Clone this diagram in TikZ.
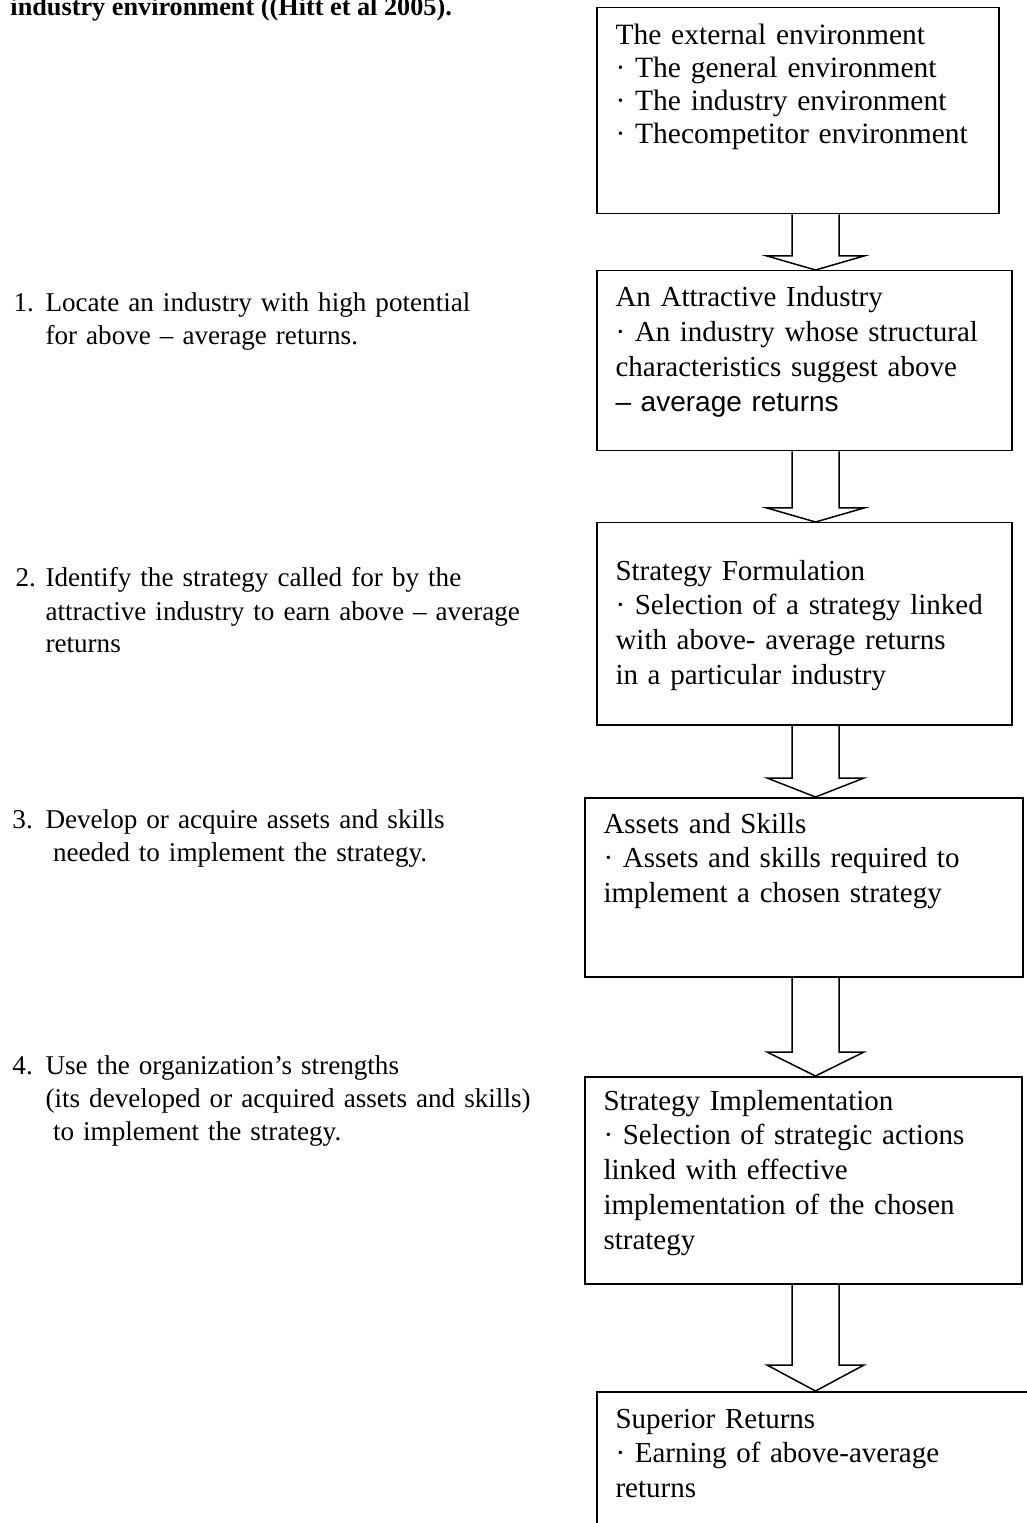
\documentclass[tikz,border=0pt]{standalone}
\usepackage{fontspec}
\setmainfont{Liberation Serif}
\newfontfamily\arialfont{Liberation Sans}
\usetikzlibrary{calc}

\begin{document}
\begin{tikzpicture}[x=0.4pt, y=-0.4pt,
	every node/.style={inner sep=0pt, font=\fontsize{11.6}{13.9}\selectfont},
	box/.style={draw, line width=0.6pt, anchor=north west},
	boxtext/.style={anchor=base west, text width=180pt, align=left},
	lefttext/.style={anchor=base west, text width=220pt, align=left, font=\fontsize{10.85}{13.2}\selectfont},
	blockline/.style={line width=0.6pt, line join=miter}]
	\useasboundingbox (0,0) rectangle (1026,1523);
	% heading, its first line is cut off by the page
	\node[anchor=base west, font=\fontsize{10.5}{12}\selectfont\bfseries] (title) at (10,16) {industry environment ((Hitt et al 2005).};
	% the boxes on the right
	\node[box, minimum width=402*0.4pt, minimum height=206*0.4pt] (ext) at (596,7) {};
	\node[box, minimum width=415*0.4pt, minimum height=180*0.4pt] (attr) at (596,270) {};
	\node[box, minimum width=415*0.4pt, minimum height=202*0.4pt] (form) at (596,522) {};
	\node[box, minimum width=438*0.4pt, minimum height=179*0.4pt] (assets) at (584,797) {};
	\node[box, minimum width=437*0.4pt, minimum height=207*0.4pt] (impl) at (584,1076) {};
	\node[box, minimum width=450*0.4pt, minimum height=200*0.4pt] (sup) at (596,1391) {};
	\node[boxtext, font=\fontsize{11.8}{13.1}\selectfont] (ext-t) at (615,45) {The external environment\\· The general environment\\· The industry environment\\· Thecompetitor environment};
	\node[boxtext] (attr-t) at (615,307) {An Attractive Industry\\· An industry whose structural\\characteristics suggest above\\{\arialfont\fontsize{11.2}{13.9}\selectfont – average returns}};
	\node[boxtext] (form-t) at (615,580) {Strategy Formulation\\· Selection of a strategy linked\\with above- average returns\\in a particular industry};
	\node[boxtext] (assets-t) at (603,833) {Assets and Skills\\· Assets and skills required to\\implement a chosen strategy};
	\node[boxtext] (impl-t) at (603,1110) {Strategy Implementation\\· Selection of strategic actions\\linked with effective\\implementation of the chosen\\strategy};
	\node[boxtext] (sup-t) at (615,1428) {Superior Returns\\· Earning of above-average\\returns};
	% hollow arrows between the boxes
	\coordinate (ax) at (815.5,0);
	\foreach \a/\b/\h in {ext/attr/14, attr/form/14, form/assets/19, assets/impl/24, impl/sup/26}
		\draw[blockline] ($(ax |- \a.south)+(-23.5,0)$) -- ($(ax |- \b.north)+(-23.5,-\h)$) -- ++(-25,0) -- (ax |- \b.north) -- ($(ax |- \b.north)+(48.5,-\h)$) -- ++(-25,0) -- ($(ax |- \a.south)+(23.5,0)$);
	% the steps on the left
	\node[lefttext, text width=20pt] (n1) at (13,312) {1.};
	\node[lefttext] (s1) at (45,312) {Locate an industry with high potential\\for above – average returns.};
	\node[lefttext, text width=20pt] (n2) at (15,587) {2.};
	\node[lefttext] (s2) at (45,587) {Identify the strategy called for by the\\attractive industry to earn above – average\\returns};
	\node[lefttext, text width=20pt] (n3) at (12,828) {3.};
	\node[lefttext] (s3) at (45,828) {Develop or acquire assets and skills\\\hspace*{3pt}needed to implement the strategy.};
	\node[lefttext, text width=20pt] (n4) at (12,1074) {4.};
	\node[lefttext] (s4) at (45,1074) {Use the organization’s strengths\\(its developed or acquired assets and skills)\\\hspace*{3pt}to implement the strategy.};
\end{tikzpicture}
\end{document}
